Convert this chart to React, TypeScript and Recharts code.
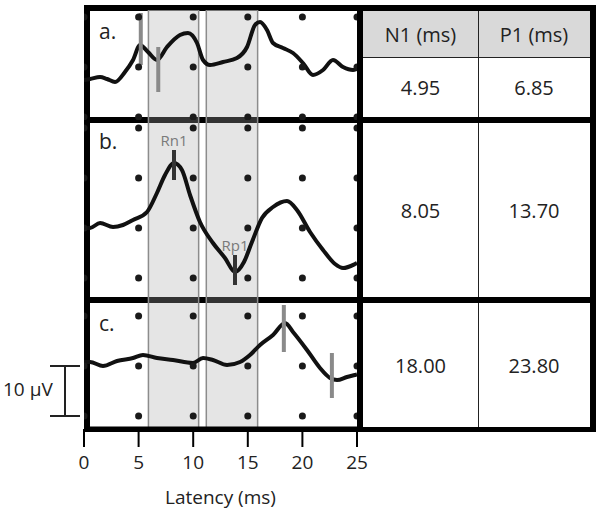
import React from "react";
import { LineChart, Line, XAxis, YAxis, ReferenceArea, ReferenceDot, ReferenceLine } from "recharts";

const xTicks = [0, 5, 10, 15, 20, 25];

// waveform a.
const latencyA = [0, 0.55, 1.47, 2.11, 2.84, 3.75, 4.49, 5.13, 5.86, 6.68, 7.6, 8.79, 9.52, 10.35, 10.9, 11.54, 12.73, 14.01, 14.93, 15.66, 16.12, 16.76, 17.31, 18.22, 19.14, 20.05, 20.97, 21.89, 22.8, 23.72, 24.63, 25];
const voltageA = [-2.6, -2.4, -2.0, -2.4, -3.0, -1.0, 1.4, 4.4, 3.0, 1.4, 4.0, 6.4, 6.8, 4.8, 1.4, 0.4, 1.0, 1.8, 4.0, 8.4, 9.0, 7.4, 4.8, 3.8, 2.8, 0.8, -1.6, -0.6, 1.4, 0, -0.6, -0.4];

// waveform b.
const latencyB = [0, 0.55, 1.47, 2.66, 3.57, 4.49, 5.77, 6.68, 7.42, 8.24, 8.97, 9.71, 10.62, 11.81, 12.91, 13.83, 14.65, 15.38, 16.3, 17.31, 18.59, 19.5, 20.7, 21.89, 22.99, 23.72, 24.82, 25];
const voltageB = [0, 0, 1.0, 0.2, 0.6, 1.6, 3.2, 7.0, 10.6, 13.0, 11.6, 6.6, 1.2, -3.0, -6.0, -8.8, -6.8, -2.8, 2.0, 4.2, 5.4, 3.6, -0.8, -4.4, -7.2, -8.0, -7.2, -7.0];

// waveform c.
const latencyC = [0, 0.55, 1.74, 3.02, 4.49, 5.4, 6.68, 8.15, 9.98, 10.9, 11.81, 13.1, 14.29, 15.2, 16.12, 17.31, 18.41, 19.14, 20.42, 21.61, 22.53, 23.17, 24.08, 24.82, 25];
const voltageC = [0.8, 0.8, 0, 1.0, 1.6, 2.2, 1.6, 1.2, 0.6, 1.6, 1.2, 0.2, 0.8, 2.2, 4.2, 6.2, 8.6, 6.8, 3.2, -0.4, -2.4, -2.8, -2.2, -1.8, -1.7];

// peak markers (latency, top, bottom in µV)
const markerLatencyA = [5.2, 6.8];
const markerTopA = [10.8, 4.0];
const markerBottomA = [0.4, -5.0];
const markerLatencyB = [8.24, 13.83];
const markerTopB = [15.6, -5.4];
const markerBottomB = [9.6, -11.4];
const markerLabelB = ["Rn1", "Rp1"];
const markerLatencyC = [18.3, 22.7];
const markerTopC = [12.2, 2.6];
const markerBottomC = [2.8, -6.4];

// grid dot rows (µV)
const dotRowsA = [10, 0, -10];
const dotRowsB = [20, 10, 0, -10];
const dotRowsC = [10, 0, -10];

// shaded windows (ms)
const windowStart = [5.9, 11.2];
const windowEnd = [10.5, 15.9];

// table
const tableHeader = ["N1 (ms)", "P1 (ms)"];
const n1Values = ["4.95", "8.05", "18.00"];
const p1Values = ["6.85", "13.70", "23.80"];
const panelLabels = ["a.", "b.", "c."];

const FONT = "'Open Sans', sans-serif";

const zip = (t: number[], v: number[]) => t.map((x, i) => ({ t: x, v: v[i] }));

const gridDots = (rows: number[]) =>
  rows.flatMap((v) =>
    xTicks.map((t) => (
      <ReferenceDot key={`d-${t}-${v}`} x={t} y={v} r={3.5} fill="#1a1a1a" stroke="none" ifOverflow="visible" />
    ))
  );

function Panel({ top, height, domain, data, rows, mt, mTop, mBot, mColor, mLabels }: any) {
  return (
    <div style={{ position: "absolute", left: 84, top }}>
      <LineChart width={273} height={height} data={data} margin={{ top: 0, right: 0, bottom: 0, left: 0 }}>
        <XAxis dataKey="t" type="number" domain={[0, 25]} hide />
        <YAxis type="number" domain={domain} hide allowDataOverflow />
        {gridDots(rows)}
        <Line type="monotone" dataKey="v" stroke="#111" strokeWidth={4} dot={false} isAnimationActive={false} />
        {mt.map((t: number, i: number) => (
          <ReferenceLine
            key={`m-${i}`}
            segment={[{ x: t, y: mTop[i] }, { x: t, y: mBot[i] }]}
            stroke={mColor}
            strokeWidth={4}
            ifOverflow="visible"
            label={mLabels ? { value: mLabels[i], position: "top", fill: "#7a7a7a", fontSize: 15, fontFamily: FONT, offset: 4 } : undefined}
          />
        ))}
      </LineChart>
    </div>
  );
}

const bar = (left: number, top: number, width: number, height: number, bg = "#000") => (
  <div key={`${left}-${top}-${width}-${height}`} style={{ position: "absolute", left, top, width, height, background: bg }} />
);

const cell = (text: string, left: number, top: number, width: number, height: number) => (
  <div
    key={`c-${text}-${left}-${top}`}
    style={{
      position: "absolute", left, top, width, height, display: "flex", alignItems: "center",
      justifyContent: "center", fontSize: 20, color: "#222", fontFamily: FONT,
    }}
  >
    {text}
  </div>
);

export default function App() {
  const rowTops = [57, 123, 303];
  const rowHeights = [60, 174, 124];
  const labelTops = [21, 131, 313];

  return (
    <div style={{ position: "absolute", left: 0, top: 0, width: 600, height: 516, background: "#fff", overflow: "hidden", fontFamily: FONT }}>
      {/* table header fill */}
      {bar(363, 11, 227, 46, "#d9d9d9")}
      {bar(363, 56.5, 227, 1.2, "#222")}
      {bar(477.5, 10, 1.5, 418, "#222")}

      {/* frame */}
      {bar(84, 5, 512, 6)}
      {bar(84, 5, 6, 427)}
      {bar(84, 117, 512, 6)}
      {bar(84, 297, 512, 6)}
      {bar(84, 427, 512, 5)}
      {bar(357, 5, 6, 427)}
      {bar(590, 5, 6, 427)}

      {/* shaded windows + latency axis */}
      <div style={{ position: "absolute", left: 64, top: 10 }}>
        <LineChart width={313} height={506} data={[{ t: 0, v: 0 }, { t: 25, v: 1 }]} margin={{ top: 0, right: 20, bottom: 0, left: 20 }}>
          <XAxis
            dataKey="t"
            type="number"
            domain={[0, 25]}
            ticks={xTicks}
            interval={0}
            height={87}
            axisLine={{ stroke: "#000", strokeWidth: 5 }}
            tickLine={{ stroke: "#000", strokeWidth: 2 }}
            tickSize={18}
            tickMargin={9}
            tick={{ fontSize: 19, fill: "#222", fontFamily: FONT }}
            label={{ value: "Latency (ms)", position: "insideBottom", offset: 12, fontSize: 19, fill: "#222", fontFamily: FONT }}
          />
          <YAxis type="number" domain={[0, 1]} hide />
          <Line dataKey="v" stroke="none" dot={false} isAnimationActive={false} />
          {windowStart.map((s, i) => (
            <ReferenceArea key={`w-${i}`} x1={s} x2={windowEnd[i]} y1={0} y2={1} fill="#a8a8a8" fillOpacity={0.3} stroke="#8c8c8c" strokeWidth={1.5} ifOverflow="visible" />
          ))}
        </LineChart>
      </div>

      <Panel top={7} height={113} domain={[-10.6, 12]} data={zip(latencyA, voltageA)} rows={dotRowsA}
        mt={markerLatencyA} mTop={markerTopA} mBot={markerBottomA} mColor="#8a8a8a" />
      <Panel top={120} height={180} domain={[-14.4, 21.6]} data={zip(latencyB, voltageB)} rows={dotRowsB}
        mt={markerLatencyB} mTop={markerTopB} mBot={markerBottomB} mColor="#333" mLabels={markerLabelB} />
      <Panel top={300} height={129} domain={[-12.6, 13.2]} data={zip(latencyC, voltageC)} rows={dotRowsC}
        mt={markerLatencyC} mTop={markerTopC} mBot={markerBottomC} mColor="#8a8a8a" />

      {/* panel letters */}
      {panelLabels.map((l, i) => (
        <div key={l} style={{ position: "absolute", left: 99, top: labelTops[i], fontSize: 21, lineHeight: 1, color: "#222" }}>{l}</div>
      ))}

      {/* 10 µV scale bar */}
      {bar(64, 366, 2, 50, "#222")}
      {bar(50, 365, 30, 2, "#222")}
      {bar(50, 415, 30, 2, "#222")}
      <div style={{ position: "absolute", left: 3, top: 380, fontSize: 19, lineHeight: 1, color: "#222", whiteSpace: "nowrap" }}>10 µV</div>

      {/* table text */}
      {cell(tableHeader[0], 363, 11, 115, 46)}
      {cell(tableHeader[1], 478, 11, 112, 46)}
      {n1Values.map((v, i) => cell(v, 363, rowTops[i], 115, rowHeights[i]))}
      {p1Values.map((v, i) => cell(v, 478, rowTops[i], 112, rowHeights[i]))}
    </div>
  );
}
